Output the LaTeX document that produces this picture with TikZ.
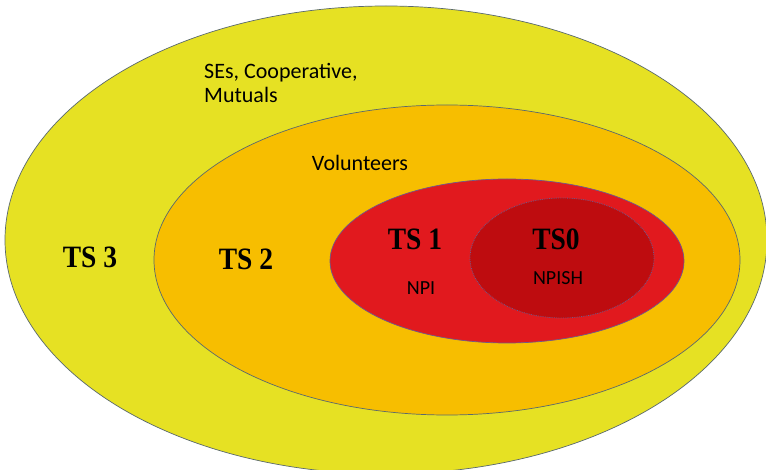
\documentclass[tikz,border=0pt]{standalone}
\usepackage{fontspec}
\setmainfont{Carlito}
\newfontfamily\timesfont{Liberation Serif}
\definecolor{ylw}{RGB}{230,225,35}
\definecolor{org}{RGB}{247,190,0}
\definecolor{rd}{RGB}{225,25,30}
\definecolor{drd}{RGB}{190,12,15}
\definecolor{edge}{RGB}{90,105,110}
\definecolor{edgeb}{RGB}{110,90,140}
\newcommand{\tall}[1]{\scalebox{1}[1.13]{#1}}
\tikzset{
  ring/.style={draw=edge, line width=0.7pt},
  tslabel/.style={font=\timesfont\bfseries\fontsize{27.5}{30}\selectfont, inner sep=0pt},
  lbl/.style={font=\fontsize{22}{24.5}\selectfont, inner sep=0pt, align=left},
  slbl/.style={font=\fontsize{20}{24}\selectfont, inner sep=0pt}
}
\begin{document}
\begin{tikzpicture}[x=1pt,y=-1pt]
\useasboundingbox (0,0) rectangle (766,470);
\clip (0,0) rectangle (766,470);
\fill[white] (0,0) rectangle (766,470);
\path[ring, fill=ylw] (386,240) ellipse [x radius=381, y radius=234];
\path[ring, fill=org] (447,260) ellipse [x radius=293, y radius=155];
\path[ring, fill=rd, draw=edgeb] (507,261) ellipse [x radius=177, y radius=82];
\path[fill=drd, draw=edgeb, line width=0.8pt, densely dotted] (562,258) ellipse [x radius=92, y radius=60];
\node[lbl, anchor=north west] (ses) at (204,63) {SEs, Cooperative,\\Mutuals};
\node[lbl] (vol) at (360,163) {Volunteers};
\node[tslabel] (ts3) at (90,257) {\tall{TS 3}};
\node[tslabel] (ts2) at (246,259) {\tall{TS 2}};
\node[tslabel] (ts1) at (415,239) {\tall{TS 1}};
\node[tslabel] (ts0) at (556,239) {\tall{TS0}};
\node[slbl] (npi) at (421,288) {NPI};
\node[slbl] (npish) at (558,278) {NPISH};
\end{tikzpicture}
\end{document}
